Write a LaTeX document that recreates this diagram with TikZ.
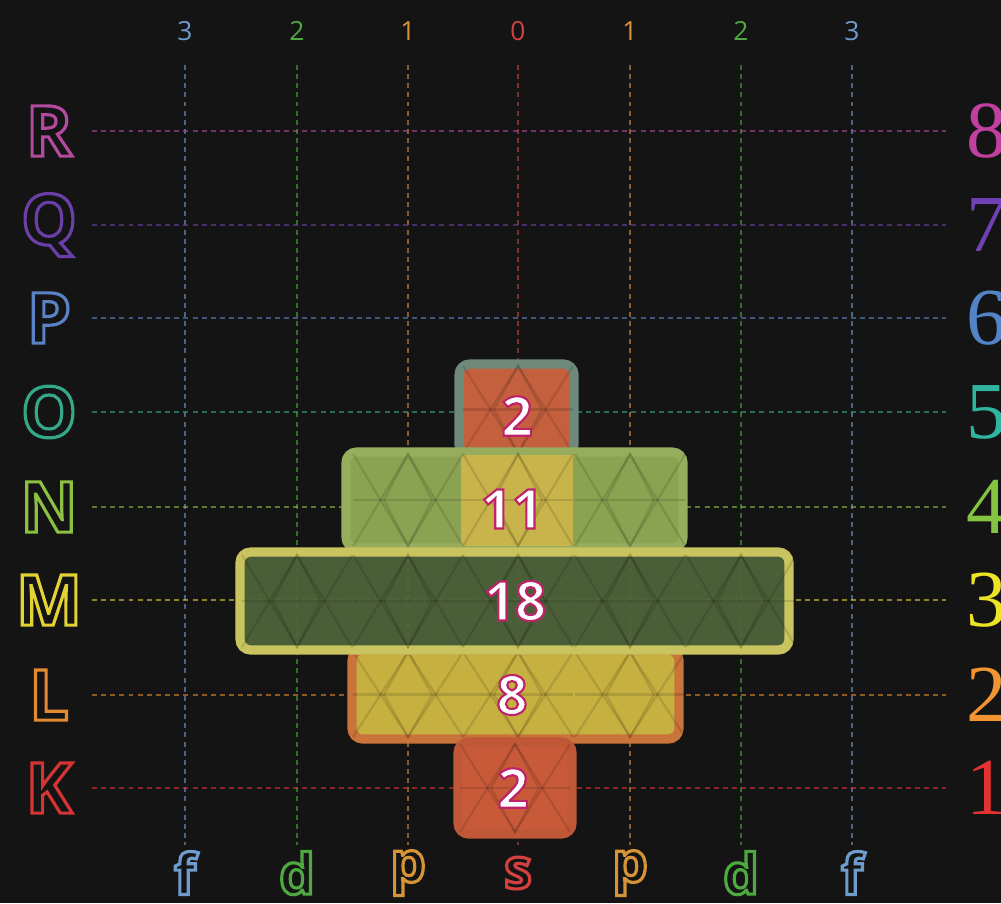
\documentclass[tikz,border=0pt]{standalone}
\usepackage{fontspec}
\newfontfamily\sansf{Open Sans}
\newfontfamily\seriff{Liberation Serif}
\definecolor{bg}{HTML}{141414}
\definecolor{cR}{HTML}{B24A9E}
\definecolor{cQ}{HTML}{6A40A8}
\definecolor{cP}{HTML}{5A82C4}
\definecolor{cO}{HTML}{34A888}
\definecolor{cN}{HTML}{8CC040}
\definecolor{cM}{HTML}{E2D234}
\definecolor{cL}{HTML}{E48A30}
\definecolor{cK}{HTML}{D43434}
\definecolor{nR}{HTML}{C040A0}
\definecolor{nQ}{HTML}{7040B4}
\definecolor{nP}{HTML}{5484C8}
\definecolor{nO}{HTML}{30B4A0}
\definecolor{nN}{HTML}{84C440}
\definecolor{nM}{HTML}{ECE424}
\definecolor{nL}{HTML}{F29432}
\definecolor{nK}{HTML}{E23232}
\definecolor{cf}{HTML}{6E9CCC}
\definecolor{cd}{HTML}{4EAA40}
\definecolor{cp}{HTML}{D69436}
\definecolor{cs}{HTML}{D44040}
\definecolor{oFill}{HTML}{C4603E}
\definecolor{oBorder}{HTML}{6F8A7A}
\definecolor{nFill}{HTML}{8AA352}
\definecolor{nCenter}{HTML}{C8B44A}
\definecolor{nBorder}{HTML}{97AD5E}
\definecolor{mFill}{HTML}{4F653A}
\definecolor{mBorder}{HTML}{C9C460}
\definecolor{lFill}{HTML}{C6B040}
\definecolor{lBorder}{HTML}{C8743A}
\definecolor{kFill}{HTML}{C85A3A}
\definecolor{kBorder}{HTML}{C05838}
\tikzset{
  gridline/.style={line width=0.8pt, dash pattern=on 1.4pt off 1.2pt, opacity=0.6},
  rowletter/.style={font=\sansf\bfseries\fontsize{20}{20}\selectfont, inner sep=0pt},
  rownum/.style={font=\seriff\fontsize{23}{23}\selectfont, inner sep=0pt, anchor=west},
  coltop/.style={font=\sansf\fontsize{7.5}{7.5}\selectfont, inner sep=0pt},
  colbot/.style={font=\sansf\bfseries\fontsize{16}{16}\selectfont, inner sep=0pt},
  block/.style={rounded corners=3pt, line width=2.6pt},
  pat/.style={draw=black, opacity=0.12, line width=0.6pt},
  count/.style={font=\sansf\bfseries\fontsize{15.5}{15.5}\selectfont, inner sep=0pt},
}
% outlined (hollow) text: text render mode 1 = stroke only
\newcommand{\hollow}[2]{\textcolor{#1}{\special{pdf:literal direct 1 Tr 0.9 w}#2\special{pdf:literal direct 0 Tr}}}
% white text with a thin magenta edge: render mode 2 = fill and stroke
\newcommand{\edged}[1]{\textcolor{white}{\special{pdf:literal direct 0.75 0.13 0.42 RG 2 Tr 0.6 w}#1\special{pdf:literal direct 0 Tr}}}
\newcommand{\cellpattern}[3]{%
  \pgfmathsetmacro{\cl}{#1-55}\pgfmathsetmacro{\cr}{#1+55}%
  \pgfmathsetmacro{\dl}{#1-24}\pgfmathsetmacro{\dr}{#1+24}%
  \pgfmathsetmacro{\cm}{(#2+#3)/2}%
  \draw[pat] (\cl,#2) -- (#1,#3) -- (\cr,#2);
  \draw[pat] (\cl,#3) -- (#1,#2) -- (\cr,#3);
  \draw[pat] (#1,#2) -- (\dl,\cm) -- (#1,#3) -- (\dr,\cm) -- cycle;
  \draw[pat] (\cl,\cm) -- (\cr,\cm);
}
\begin{document}
\begin{tikzpicture}[x=0.01cm,y=-0.01cm]
\useasboundingbox (0,0) rectangle (1001,903);
\fill[bg] (0,0) rectangle (1001,903);
% column labels and vertical lines
\foreach \nm/\x/\t/\b/\c in {c1/185/3/f/cf, c2/297/2/d/cd, c3/408/1/p/cp, c4/518/0/s/cs, c5/630/1/p/cp, c6/741/2/d/cd, c7/852/3/f/cf}{
  \node[coltop, text=\c] (\nm top) at (\x,31) {\t};
  \node[colbot] (\nm bot) at (\x,873) {\hollow{\c}{\b}};
  \coordinate (\nm a) at (\x,65);
  \coordinate (\nm b) at (\x,845);
  \draw[gridline, \c] (\nm a) -- (\nm b);
}
% row labels and horizontal lines
\foreach \nm/\y/\c/\n/\k in {R/131/cR/nR/8, Q/225/cQ/nQ/7, P/318/cP/nP/6, O/412/cO/nO/5, N/507/cN/nN/4, M/600/cM/nM/3, L/695/cL/nL/2, K/788/cK/nK/1}{
  \node[rowletter] (row\nm) at (49,\y) {\hollow{\c}{\nm}};
  \node[rownum, text=\n] (num\nm) at (966,\y) {\k};
  \coordinate (h\nm a) at (92,\y);
  \coordinate (h\nm b) at (946,\y);
  \draw[gridline, \c] (h\nm a) -- (h\nm b);
}
% blocks
\draw[block, fill=oFill, draw=oBorder] (459,364) rectangle (574,455);
\cellpattern{518}{366}{453}
\draw[block, fill=nFill, draw=nBorder] (346,452) rectangle (683,548);
\fill[nCenter] (461,455) rectangle (573,546);
\foreach \x in {408,518,630}{\cellpattern{\x}{454}{546}}
\draw[block, fill=lFill, draw=lBorder] (352,650) rectangle (679,739);
\foreach \x in {408,518,630}{\cellpattern{\x}{652}{737}}
\draw[block, fill=kFill, draw=kBorder] (458,742) rectangle (572,834);
\cellpattern{515}{744}{832}
\draw[block, fill=mFill, fill opacity=0.93, draw=mBorder] (240,552) rectangle (789,650);
\foreach \x in {297,408,518,630,741}{\cellpattern{\x}{555}{647}}
% counts
\node[count] (nO5) at (517,416) {\edged{2}};
\node[count] (nN4) at (512,509) {\edged{11}};
\node[count] (nM3) at (515,601) {\edged{18}};
\node[count] (nL2) at (512,695) {\edged{8}};
\node[count] (nK1) at (513,788) {\edged{2}};
\end{tikzpicture}
\end{document}
